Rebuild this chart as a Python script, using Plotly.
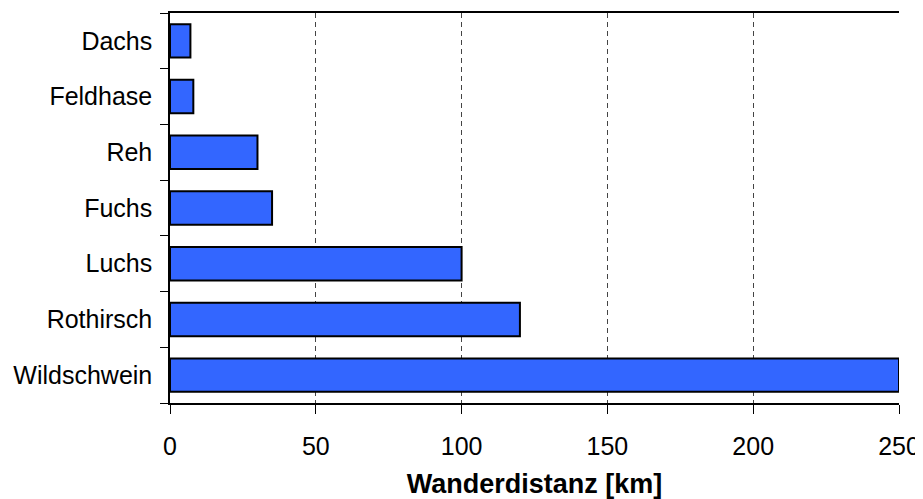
import plotly.graph_objects as go

animals = ["Dachs", "Feldhase", "Reh", "Fuchs", "Luchs", "Rothirsch", "Wildschwein"]
distances_km = [7, 8, 30, 35, 100, 120, 250]
x_ticks = [0, 50, 100, 150, 200, 250]

fig = go.Figure(
    go.Bar(
        x=distances_km,
        y=animals,
        orientation="h",
        marker=dict(color="#3366FF", line=dict(color="black", width=2)),
    )
)

font = dict(family="Liberation Sans, Arial, sans-serif", size=25, color="black")

fig.update_layout(
    width=915,
    height=491,
    margin=dict(l=162, r=24, t=5, b=96),
    paper_bgcolor="white",
    plot_bgcolor="white",
    bargap=0.4,
    showlegend=False,
    font=font,
    xaxis=dict(
        range=[0, 250],
        tickvals=x_ticks,
        ticktext=[str(v) for v in x_ticks],
        automargin=False,
        showgrid=True,
        gridcolor="#444444",
        griddash="5px,4px",
        gridwidth=1,
        zeroline=False,
        showline=True,
        linecolor="black",
        linewidth=1.5,
        mirror=True,
        ticks="outside",
        ticklen=9,
        tickcolor="black",
        tickfont=font,
        ticklabelstandoff=11,
        title=dict(text="<b>Wanderdistanz [km]</b>", font=dict(family=font["family"], size=27, color="black"), standoff=33),
    ),
    yaxis=dict(
        categoryorder="array",
        categoryarray=animals[::-1],
        automargin=False,
        showgrid=False,
        showline=True,
        linecolor="black",
        linewidth=1.5,
        ticks="outside",
        tickson="boundaries",
        ticklen=8,
        tickcolor="black",
        tickfont=font,
        ticklabelstandoff=11,
    ),
)

fig.write_html("out.html")
